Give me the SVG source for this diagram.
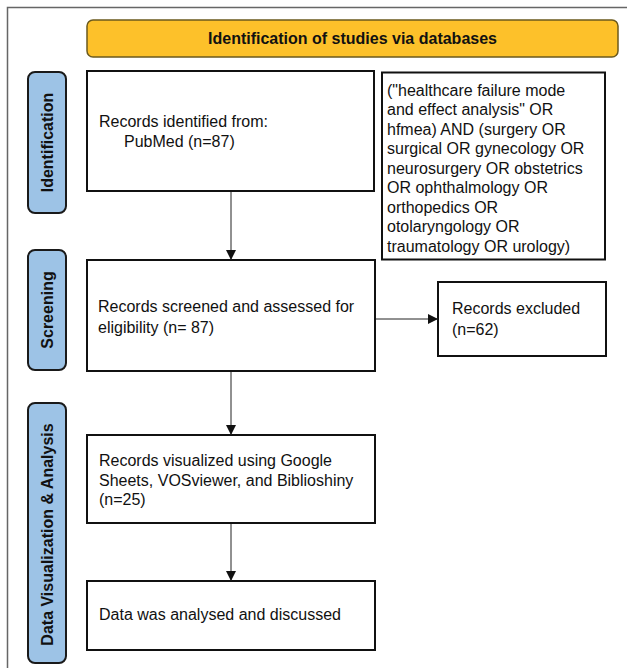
<svg xmlns="http://www.w3.org/2000/svg" width="627" height="668" viewBox="0 0 627 668">
<defs>
<style>
.box{fill:#fff;stroke:#111;stroke-width:2}
.side{fill:#9DC3E6;stroke:#1a1a1a;stroke-width:2}
.hdr{fill:#FDC12A;stroke:#6b5a1e;stroke-width:1.5}
.t{font-family:"Liberation Sans",Arial,sans-serif;font-size:16px;fill:#111}
.b{font-family:"Liberation Sans",Arial,sans-serif;font-size:16px;font-weight:bold;fill:#111}
.c{stroke:#222;stroke-width:1;fill:none}
</style>
<marker id="ah" viewBox="0 0 10 10" refX="10" refY="5" markerWidth="10" markerHeight="10" markerUnits="userSpaceOnUse" orient="auto">
<path d="M0,0 L10,5 L0,10 Z" fill="#111"/>
</marker>
</defs>
<rect x="0" y="0" width="627" height="668" fill="#fff"/>
<rect x="7.5" y="7.5" width="640" height="680" fill="none" stroke="#666" stroke-width="1.5"/>

<g id="header">
<rect class="hdr" x="87" y="20" width="531" height="37" rx="6"/>
<text class="b" x="352.5" y="44" text-anchor="middle">Identification of studies via databases</text>
</g>

<g id="side-identification">
<rect class="side" x="28" y="72" width="38" height="141" rx="7"/>
<text class="b" transform="translate(53,142.5) rotate(-90)" text-anchor="middle">Identification</text>
</g>
<g id="side-screening">
<rect class="side" x="28" y="250" width="38" height="120" rx="7"/>
<text class="b" transform="translate(53,310) rotate(-90)" text-anchor="middle">Screening</text>
</g>
<g id="side-analysis">
<rect class="side" x="28" y="403" width="38" height="260" rx="7"/>
<text class="b" transform="translate(53,534.5) rotate(-90)" text-anchor="middle">Data Visualization &amp; Analysis</text>
</g>

<g id="records-identified">
<rect class="box" x="87" y="71" width="287" height="120"/>
<text class="t" x="99" y="126.5">Records identified from:</text>
<text class="t" x="124" y="146.5">PubMed (n=87)</text>
</g>

<g id="search-string">
<rect class="box" x="382" y="72.5" width="223" height="187"/>
<text class="t">
<tspan x="387" y="95.5">("healthcare failure mode</tspan>
<tspan x="387" y="115">and effect analysis" OR</tspan>
<tspan x="387" y="134.5">hfmea) AND (surgery OR</tspan>
<tspan x="387" y="154">surgical OR gynecology OR</tspan>
<tspan x="387" y="173.5">neurosurgery OR obstetrics</tspan>
<tspan x="387" y="193">OR ophthalmology OR</tspan>
<tspan x="387" y="212.5">orthopedics OR</tspan>
<tspan x="387" y="232">otolaryngology OR</tspan>
<tspan x="387" y="251.5">traumatology OR urology)</tspan>
</text>
</g>

<g id="records-screened">
<rect class="box" x="87" y="260" width="288" height="111"/>
<text class="t" x="98" y="312">Records screened and assessed for</text>
<text class="t" x="98" y="333">eligibility (n= 87)</text>
</g>

<g id="records-excluded">
<rect class="box" x="438" y="282" width="168" height="74"/>
<text class="t" x="452" y="314">Records excluded</text>
<text class="t" x="452" y="335">(n=62)</text>
</g>

<g id="records-visualized">
<rect class="box" x="87" y="435" width="288" height="88"/>
<text class="t" x="99" y="466">Records visualized using Google</text>
<text class="t" x="99" y="485.5">Sheets, VOSviewer, and Biblioshiny</text>
<text class="t" x="99" y="505">(n=25)</text>
</g>

<g id="data-analysed">
<rect class="box" x="87" y="581" width="288" height="69"/>
<text class="t" x="99" y="620">Data was analysed and discussed</text>
</g>

<g id="connectors">
<line class="c" x1="231" y1="192" x2="231" y2="260" marker-end="url(#ah)"/>
<line class="c" x1="231" y1="372" x2="231" y2="435" marker-end="url(#ah)"/>
<line class="c" x1="231" y1="524" x2="231" y2="581" marker-end="url(#ah)"/>
<line class="c" x1="376" y1="319" x2="438" y2="319" marker-end="url(#ah)"/>
</g>
</svg>
